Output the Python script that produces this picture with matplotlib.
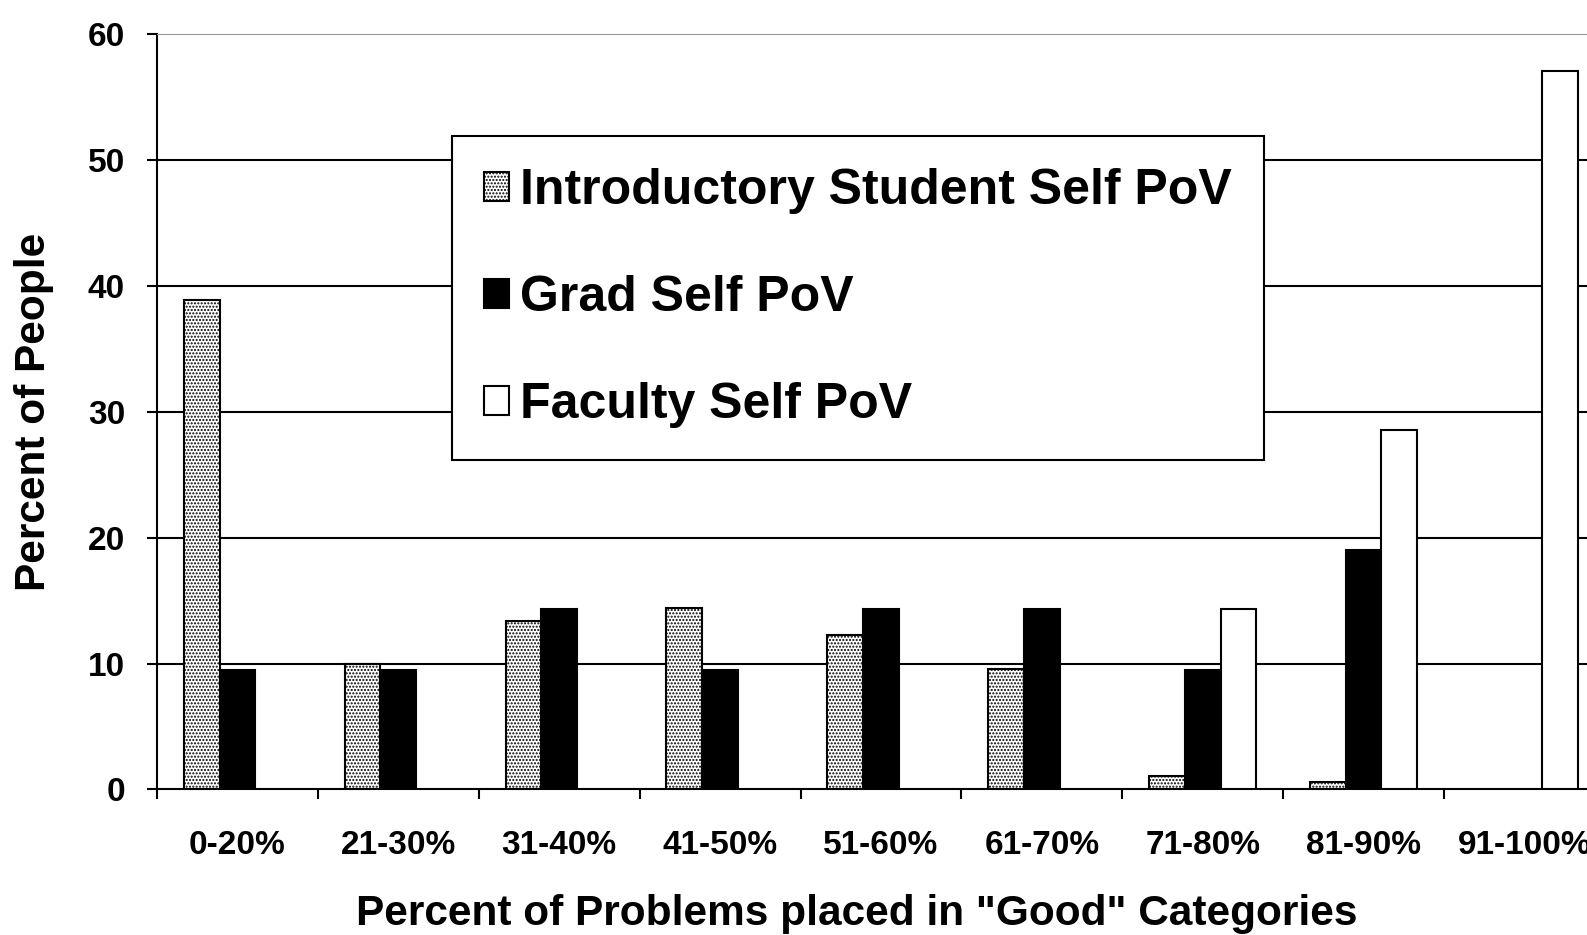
import numpy as np
import matplotlib
matplotlib.use("Agg")
from matplotlib import pyplot as plt

# Percent of people per bin of "good" placements
categories = ["0-20%", "21-30%", "31-40%", "41-50%", "51-60%",
              "61-70%", "71-80%", "81-90%", "91-100%"]
intro_self = [38.9, 10.0, 13.4, 14.4, 12.3, 9.6, 1.1, 0.6, 0.0]
grad_self = [9.5, 9.5, 14.3, 9.5, 14.3, 14.3, 9.5, 19.0, 0.0]
faculty_self = [0.0, 0.0, 0.0, 0.0, 0.0, 0.0, 14.3, 28.6, 57.1]
yticks = [0, 10, 20, 30, 40, 50, 60]

plt.rcParams['font.family'] = ['Liberation Sans', 'DejaVu Sans']
plt.rcParams['font.weight'] = 'bold'
plt.rcParams['hatch.linewidth'] = 1.0


def main():
    fig = plt.figure(figsize=(15.87, 9.35), dpi=100)
    ax = fig.add_axes([0.0989, 0.1557, 0.9124, 0.8075])

    x = np.arange(len(categories))
    w = 0.222

    def masked(vals):
        return [v if v > 0 else np.nan for v in vals]

    ax.bar(x - w, masked(intro_self), w, color='white', edgecolor='black',
           hatch='.....', linewidth=1.5, label='Introductory Student Self PoV', zorder=3)
    ax.bar(x, masked(grad_self), w, color='black', edgecolor='black',
           linewidth=1.5, label='Grad Self PoV', zorder=3)
    ax.bar(x + w, masked(faculty_self), w, color='white', edgecolor='black',
           linewidth=1.5, label='Faculty Self PoV', zorder=3)

    for y in yticks[1:-1]:
        ax.axhline(y, color='black', linewidth=1.5, zorder=1)

    ax.set_xlim(-0.5, len(categories) - 0.5)
    ax.set_ylim(0, 60)
    ax.set_yticks(yticks)
    ax.tick_params(axis='y', labelsize=24, length=7, width=1.5, pad=16)

    ax.set_xticks(np.arange(len(categories) + 1) - 0.5)
    ax.set_xticklabels([])
    ax.set_xticks(x, minor=True)
    ax.set_xticklabels(categories, minor=True)
    ax.tick_params(axis='x', which='major', length=7, width=1.5)
    ax.tick_params(axis='x', which='minor', length=0, labelsize=24, pad=29)

    ax.spines['right'].set_visible(False)
    ax.spines['top'].set_color('#999999')
    ax.spines['left'].set_linewidth(1.5)
    ax.spines['bottom'].set_linewidth(1.5)

    ax.set_xlabel('Percent of Problems placed in "Good" Categories',
                  fontsize=30.5, fontweight='bold')
    ax.xaxis.set_label_coords(0.4836, -0.138)
    ax.set_ylabel('Percent of People', fontsize=30.5, fontweight='bold', labelpad=24)

    leg = ax.legend(loc='upper left', bbox_to_anchor=(452 / 1587, 1 - 136 / 935),
                    bbox_transform=fig.transFigure, fontsize=36, frameon=True,
                    fancybox=False, edgecolor='black', handlelength=0.5,
                    handleheight=0.5, handletextpad=0.22, labelspacing=1.22,
                    borderpad=0.64, borderaxespad=0)
    leg.get_frame().set_linewidth(1.5)
    leg.get_frame().set_alpha(1)
    for t in leg.get_texts():
        t.set_fontweight('bold')

    fig.savefig('out.png', dpi=100)


if __name__ == '__main__':
    main()
